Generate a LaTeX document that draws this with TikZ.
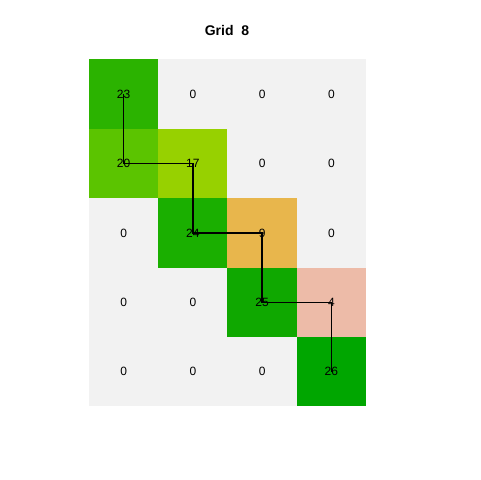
\documentclass[tikz,border=0pt]{standalone}
\usepackage{fontspec}
\setmainfont{Liberation Sans}
\definecolor{bgc}{HTML}{F2F2F2}
\definecolor{cA}{HTML}{2BB300}
\definecolor{cB}{HTML}{5BC400}
\definecolor{cC}{HTML}{97D100}
\definecolor{cD}{HTML}{1AAF00}
\definecolor{cE}{HTML}{E8B64C}
\definecolor{cF}{HTML}{0FA800}
\definecolor{cG}{HTML}{EDBBA8}
\definecolor{cH}{HTML}{00A600}
\begin{document}
\begin{tikzpicture}[x=0.75pt,y=-0.75pt,
  cell/.style={minimum width=69.4*0.75pt,minimum height=69.4*0.75pt,inner sep=0pt,outer sep=0pt,font=\fontsize{9}{10}\selectfont,fill=bgc},
  pathline/.style={draw=black,line width=1.1pt}]
\useasboundingbox (0,0) rectangle (480,480);
\node[font=\bfseries\fontsize{10.5}{12}\selectfont] (title) at (227,30) {Grid\ \ 8};
% columns centers: 123.6, 192.9, 262.1, 331.4 ; rows: 94, 163.4, 232.8, 302.2, 371.6
\node[cell,fill=cA] (c00) at (123.6,94.1) {23};
\node[cell] (c01) at (192.9,94.1) {0};
\node[cell] (c02) at (262.1,94.1) {0};
\node[cell] (c03) at (331.4,94.1) {0};
\node[cell,fill=cB] (c10) at (123.6,163.5) {20};
\node[cell,fill=cC] (c11) at (192.9,163.5) {17};
\node[cell] (c12) at (262.1,163.5) {0};
\node[cell] (c13) at (331.4,163.5) {0};
\node[cell] (c20) at (123.6,232.9) {0};
\node[cell,fill=cD] (c21) at (192.9,232.9) {24};
\node[cell,fill=cE] (c22) at (262.1,232.9) {9};
\node[cell] (c23) at (331.4,232.9) {0};
\node[cell] (c30) at (123.6,302.3) {0};
\node[cell] (c31) at (192.9,302.3) {0};
\node[cell,fill=cF] (c32) at (262.1,302.3) {25};
\node[cell,fill=cG] (c33) at (331.4,302.3) {4};
\node[cell] (c40) at (123.6,371.7) {0};
\node[cell] (c41) at (192.9,371.7) {0};
\node[cell] (c42) at (262.1,371.7) {0};
\node[cell,fill=cH] (c43) at (331.4,371.7) {26};
\draw[pathline] (c00.center) -- (c10.center) -- (c11.center) -- (c21.center) -- (c22.center) -- (c32.center) -- (c33.center) -- (c43.center);
\end{tikzpicture}
\end{document}
